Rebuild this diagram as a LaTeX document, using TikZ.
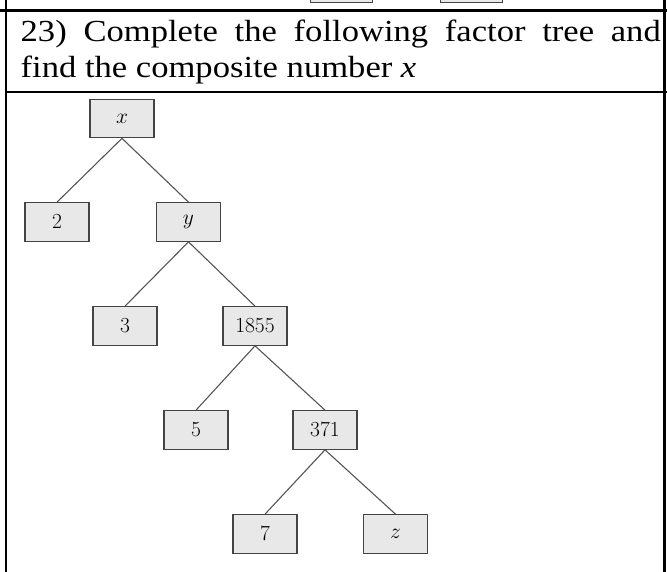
\RequirePackage{fix-cm}
\documentclass[tikz,border=0pt]{standalone}
\usepackage{fontspec}
\setmainfont{Liberation Serif}
\definecolor{boxfill}{HTML}{E8E8E8}
\definecolor{boxline}{HTML}{444444}
\definecolor{edgecol}{HTML}{555555}
\tikzset{
  treebox/.style={draw=boxline, fill=boxfill, line width=1.2pt, minimum width=64pt, minimum height=38.5pt, inner sep=0pt, font=\fontsize{21.5}{26}\selectfont},
  edge/.style={draw=edgecol, line width=1.1pt},
  rule/.style={draw=black, line width=2.3pt},
  qtext/.style={anchor=base west, inner sep=0pt, font=\fontsize{30.6}{36}\selectfont}
}
\begin{document}
\begin{tikzpicture}[x=1pt, y=-1pt]
\useasboundingbox (0,0) rectangle (667,572);
% partial boxes of the previous question
\draw[draw=boxline, fill=boxfill, line width=1pt] (310,-10) rectangle (372,2.5);
\draw[draw=boxline, fill=boxfill, line width=1pt] (440,-10) rectangle (502,2.5);
% table rules
\coordinate (tl) at (0,10.5);
\coordinate (tr) at (667,10.5);
\coordinate (ml) at (5,92);
\coordinate (mr) at (667,92);
\coordinate (lt) at (6,0);
\coordinate (lb) at (6,572);
\coordinate (rt) at (664.5,0);
\coordinate (rb) at (664.5,572);
\draw[rule] (tl) -- (tr);
\draw[rule, line width=2pt] (ml) -- (mr);
\draw[rule, line width=2pt] (lt) -- (lb);
\draw[rule, line width=2.5pt] (rt) -- (rb);
% question text
\node[qtext] (line1) at (20.5,42) {\scalebox{1.13}[1]{\makebox[566.4pt][s]{23) Complete the following factor tree and}}};
\node[qtext] (line2) at (20.5,78) {\scalebox{1.13}[1]{find the composite number \textit{x}}};
% tree
\node[treebox] (x) at (122,118.5) {$x$};
\node[treebox] (n2) at (57,222) {$2$};
\node[treebox] (y) at (188.5,222) {$y$};
\node[treebox] (n3) at (125,326) {$3$};
\node[treebox] (n1855) at (255,326) {$1855$};
\node[treebox] (n5) at (196,430) {$5$};
\node[treebox] (n371) at (325,430) {$371$};
\node[treebox] (n7) at (265,534) {$7$};
\node[treebox] (z) at (395.5,534) {$z$};
\draw[edge] (x.south) -- (n2.north);
\draw[edge] (x.south) -- (y.north);
\draw[edge] (y.south) -- (n3.north);
\draw[edge] (y.south) -- (n1855.north);
\draw[edge] (n1855.south) -- (n5.north);
\draw[edge] (n1855.south) -- (n371.north);
\draw[edge] (n371.south) -- (n7.north);
\draw[edge] (n371.south) -- (z.north);
\end{tikzpicture}
\end{document}
